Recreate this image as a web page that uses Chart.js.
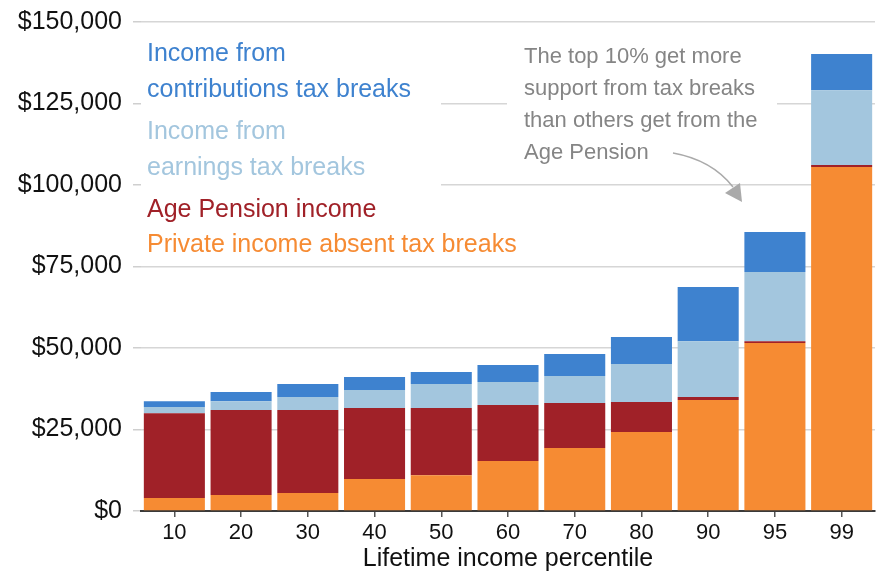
<!DOCTYPE html>
<html><head><meta charset="utf-8">
<script src="https://cdn.jsdelivr.net/npm/chart.js@4.4.1/dist/chart.umd.min.js"></script>
<style>html,body{margin:0;padding:0;background:#fff}#wrap{width:878px;height:572px;position:relative}</style>
</head><body><div id="wrap"><canvas id="c" width="878" height="572"></canvas></div>
<script>
const percentiles = ['10','20','30','40','50','60','70','80','90','95','99'];
const privateIncome       = [4000, 4900, 5500, 9800, 11000, 15300, 19300, 24200, 34050, 51500, 105500];
const agePension          = [26000, 26100, 25500, 21800, 20600, 17200, 13800, 9200, 950, 600, 600];
const earningsBreaks      = [1900, 2700, 4000, 5500, 7350, 7050, 8300, 11700, 17100, 21200, 23000];
const contributionsBreaks = [1800, 2800, 3950, 4000, 3650, 5250, 6750, 8300, 16600, 12300, 11100];
const yTicks = [0, 25000, 50000, 75000, 100000, 125000, 150000];
const legendLabels = [
  ['Income from', 'contributions tax breaks'],
  ['Income from', 'earnings tax breaks'],
  ['Age Pension income'],
  ['Private income absent tax breaks']
];
const annotationLines = ['The top 10% get more', 'support from tax breaks', 'than others get from the', 'Age Pension'];
const xTitle = 'Lifetime income percentile';

const COLORS = {
  contrib: '#3E82CF',
  earn: '#A3C6DE',
  pension: '#A02128',
  priv: '#F68B33'
};
const FONT = '"Liberation Sans", Arial, sans-serif';

const overlay = {
  id: 'overlay',
  beforeDatasetsDraw(chart) {
    const ctx = chart.ctx;
    ctx.save();
    ctx.fillStyle = '#fff';
    ctx.fillRect(141, 32, 300, 230);
    ctx.fillRect(507, 38, 270, 128);
    ctx.restore();
  },
  afterDatasetsDraw(chart) {
    const ctx = chart.ctx;
    ctx.save();
    const legendColors = [COLORS.contrib, COLORS.earn, COLORS.pension, COLORS.priv];
    const legendY = [[54, 90], [132, 168], [210], [245]];
    ctx.font = '25px ' + FONT;
    ctx.textBaseline = 'middle';
    ctx.textAlign = 'left';
    legendLabels.forEach((lines, i) => {
      ctx.fillStyle = legendColors[i];
      lines.forEach((t, j) => ctx.fillText(t, 147, legendY[i][j]));
    });
    ctx.font = '22px ' + FONT;
    ctx.fillStyle = '#858585';
    annotationLines.forEach((t, j) => ctx.fillText(t, 524, 57 + j * 32));
    ctx.strokeStyle = '#aaaaaa';
    ctx.lineWidth = 1.5;
    ctx.beginPath();
    ctx.moveTo(673, 153);
    ctx.quadraticCurveTo(712, 160, 733, 187);
    ctx.stroke();
    ctx.fillStyle = '#aaaaaa';
    ctx.beginPath();
    ctx.moveTo(725, 193);
    ctx.lineTo(740, 183);
    ctx.lineTo(742, 202);
    ctx.closePath();
    ctx.fill();
    ctx.restore();
  }
};

new Chart(document.getElementById('c'), {
  type: 'bar',
  data: {
    labels: percentiles,
    datasets: [
      { label: 'Private income absent tax breaks', data: privateIncome, backgroundColor: COLORS.priv },
      { label: 'Age Pension income', data: agePension, backgroundColor: COLORS.pension },
      { label: 'Income from earnings tax breaks', data: earningsBreaks, backgroundColor: COLORS.earn },
      { label: 'Income from contributions tax breaks', data: contributionsBreaks, backgroundColor: COLORS.contrib }
    ]
  },
  options: {
    responsive: false,
    animation: false,
    devicePixelRatio: 1,
    layout: { padding: { left: 0, right: 3, top: 22, bottom: 0 } },
    datasets: { bar: { barPercentage: 0.915, categoryPercentage: 1.0, borderWidth: 0 } },
    plugins: { legend: { display: false }, tooltip: { enabled: false } },
    scales: {
      x: {
        stacked: true,
        afterFit(s) { s.height = 61; },
        grid: { display: true, offset: false, drawOnChartArea: false, drawTicks: true, tickLength: 6, tickColor: '#555', lineWidth: 1.5 },
        border: { display: true, color: '#3a3a3a', width: 2 },
        ticks: { color: '#111', font: { family: FONT, size: 22 }, padding: 3 },
        title: { display: true, text: xTitle, color: '#111', font: { family: FONT, size: 25, lineHeight: 1 }, padding: 0 }
      },
      y: {
        stacked: true,
        min: 0, max: 150000,
        afterFit(s) { s.width = 141; },
        afterBuildTicks(s) { s.ticks = yTicks.map(v => ({ value: v })); },
        grid: { color: '#d6d6d6', lineWidth: 1.5, tickLength: 8, tickColor: '#cfcfcf' },
        border: { display: false },
        ticks: { color: '#111', font: { family: FONT, size: 25, lineHeight: 0.8 }, padding: 11,
          callback: v => '$' + Number(v).toLocaleString('en-US') }
      }
    }
  },
  plugins: [overlay]
});
</script>
</body></html>
